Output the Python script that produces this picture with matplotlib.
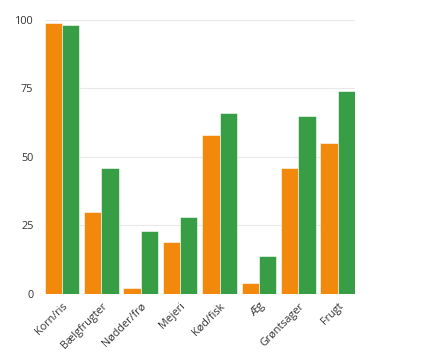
import matplotlib.pyplot as plt
import numpy as np

plt.rcParams['font.family'] = ['Open Sans', 'DejaVu Sans']

categories = ['Korn/ris', 'Bælgfrugter', 'Nødder/frø', 'Mejeri', 'Kød/fisk', 'Æg', 'Grøntsager', 'Frugt']
orange_vals = [99, 30, 2, 19, 58, 4, 46, 55]
green_vals = [98, 46, 23, 28, 66, 14, 65, 74]
yticks = [0, 25, 50, 75, 100]

fig = plt.figure(figsize=(4.45, 3.55), dpi=100)
ax = fig.add_axes([0.1, 0.172, 0.698, 0.772])

x = np.arange(len(categories))
w = 0.44
ax.bar(x - w/2, orange_vals, width=w, color='#f2890d', edgecolor='white', linewidth=0.4, zorder=3)
ax.bar(x + w/2, green_vals, width=w, color='#389e45', edgecolor='white', linewidth=0.4, zorder=3)

ax.set_xlim(-0.44, 7.44)
ax.set_ylim(0, 100)
ax.set_yticks(yticks)
ax.grid(axis='y', color='#e8e8e8', linewidth=0.8, zorder=0)
for s in ax.spines.values():
    s.set_visible(False)
ax.tick_params(length=0, labelsize=7.8, colors='#333333')
ax.tick_params(axis='y', pad=8)
ax.tick_params(axis='x', pad=5)
ax.set_xticks(x)
ax.set_xticklabels(categories, rotation=45, ha='right', rotation_mode='anchor')

fig.savefig('out.png', dpi=100)
